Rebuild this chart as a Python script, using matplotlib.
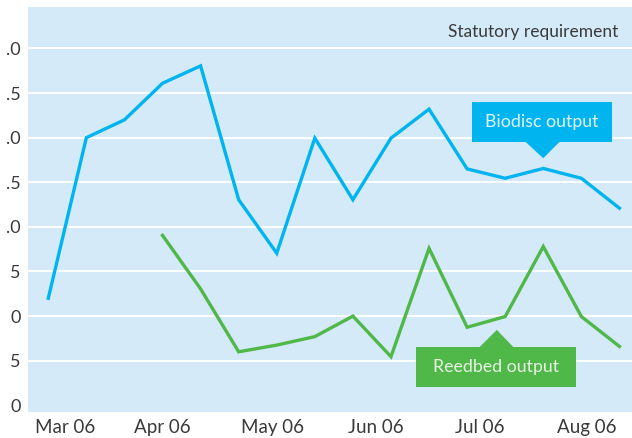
import matplotlib
matplotlib.use("Agg")
import matplotlib.pyplot as plt
from matplotlib.patches import Polygon, Rectangle

# ---- data (values in gridline-step units) ----
biodisc = [2.40, 6.00, 6.40, 7.22, 7.61, 4.61, 3.41, 5.99, 4.61, 5.99,
           6.64, 5.30, 5.09, 5.31, 5.09, 4.42]
reedbed_start = 3
reedbed = [3.81, 2.61, 1.20, 1.35, 1.54, 2.00, 1.09, 3.52, 1.75, 1.99,
           3.56, 1.99, 1.32]
month_labels = ["Mar 06", "Apr 06", "May 06", "Jun 06", "Jul 06", "Aug 06"]
month_pos = [0.45, 2.99, 5.88, 8.61, 11.34, 14.15]
ytick_vals = [0, 1, 2, 3, 4, 5, 6, 7, 8]
ytick_labels = ["0", "5", "0", "5", ".0", ".5", ".0", ".5", ".0"]

BLUE = "#00b4ef"
GREEN = "#4fb848"
BG = "#d4eaf8"
TXT = "#3a3a3a"
FONT = ["Lato", "DejaVu Sans"]
WT = "normal"

fig = plt.figure(figsize=(6.32, 4.38), dpi=100)
fig.patch.set_facecolor("white")
W, H = 632, 438
ax = fig.add_axes([27.5 / W, 1 - 412 / H, (632 - 27.5) / W, (412 - 7) / H])
ax.set_facecolor(BG)
for s in ax.spines.values():
    s.set_visible(False)

ax.set_xlim(-0.546, 15.33)
ax.set_ylim(-0.15, 8.93)

for v in ytick_vals[1:]:
    ax.axhline(v, color="white", lw=1.5, zorder=1)

xb = list(range(len(biodisc)))
xr = list(range(reedbed_start, reedbed_start + len(reedbed)))
ax.plot(xb, biodisc, color=BLUE, lw=2.4, zorder=3, solid_joinstyle="miter")
ax.plot(xr, reedbed, color=GREEN, lw=2.4, zorder=3, solid_joinstyle="miter")

ax.set_yticks(ytick_vals)
ax.set_yticklabels(ytick_labels, fontsize=13, color=TXT, family=FONT, weight=WT)
ax.set_xticks(month_pos)
ax.set_xticklabels(month_labels, fontsize=13.5, color=TXT, family=FONT, weight=WT)
ax.tick_params(axis="both", length=0)
ax.tick_params(axis="y", pad=5)
ax.tick_params(axis="x", pad=5)

ax.text(14.97, 8.38, "Statutory requirement", ha="right", va="center",
        fontsize=12.5, color=TXT, family=FONT, weight=WT, zorder=5)

# Biodisc callout, anchored on point 13
i = 13
ax_apex = (i, biodisc[i] + 0.23)
ax.add_patch(Rectangle((11.14, 5.91), 14.80 - 11.14, 6.80 - 5.91,
                       facecolor=BLUE, edgecolor="none", zorder=4))
ax.add_patch(Polygon([(i - 0.47, 5.91), (i + 0.43, 5.91), ax_apex],
                     closed=True, facecolor=BLUE, edgecolor="none", zorder=4))
ax.text((11.14 + 14.80) / 2, (5.91 + 6.80) / 2, "Biodisc output",
        ha="center", va="center", fontsize=12.8, color="#e2f5fc",
        family=FONT, weight=WT, zorder=5)

# Reedbed callout, near point 12 of the series
j = 12 - reedbed_start
gx = 12 - 0.22
ax.add_patch(Rectangle((9.66, 0.42), 13.85 - 9.66, 1.30 - 0.42,
                       facecolor=GREEN, edgecolor="none", zorder=4))
ax.add_patch(Polygon([(gx - 0.46, 1.30), (gx + 0.44, 1.30), (gx, reedbed[j] - 0.30)],
                     closed=True, facecolor=GREEN, edgecolor="none", zorder=4))
ax.text((9.66 + 13.85) / 2, (0.42 + 1.30) / 2, "Reedbed output",
        ha="center", va="center", fontsize=12.8, color="#e6f5e4",
        family=FONT, weight=WT, zorder=5)

fig.savefig("out.png", dpi=100, facecolor="white")
